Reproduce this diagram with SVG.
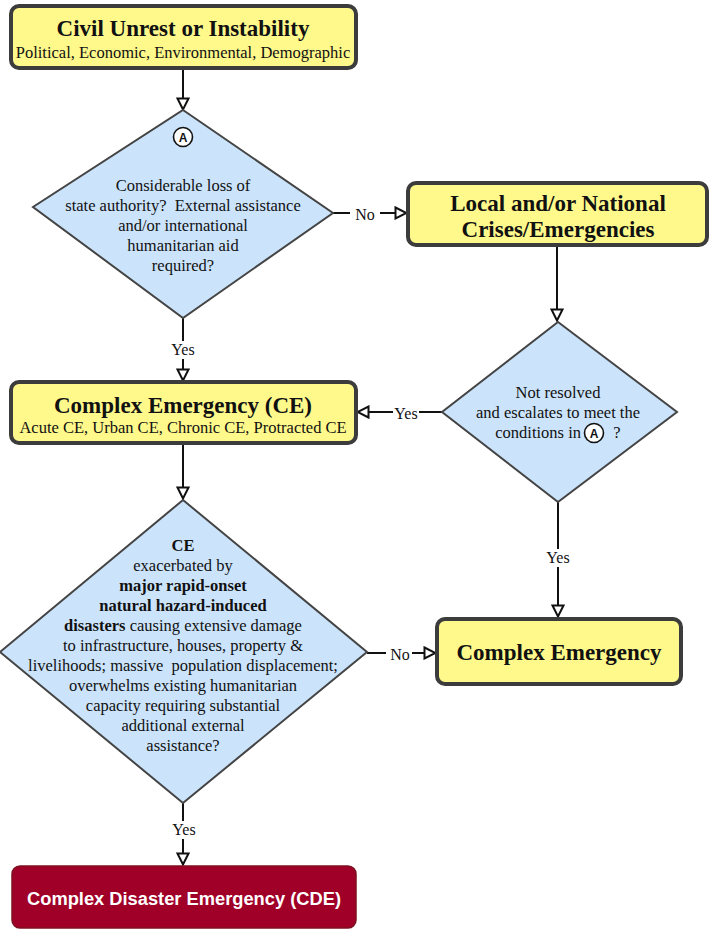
<svg xmlns="http://www.w3.org/2000/svg" width="712" height="930" viewBox="0 0 712 930">
<defs>
<style>
.box{fill:#fff98c;stroke:#3c3c3c;stroke-width:4}
.dia{fill:#cce4fb;stroke:#444;stroke-width:2}
.t{font-family:"Liberation Serif","Times New Roman",serif;fill:#111;text-anchor:middle}
.title{font-size:23px;font-weight:bold}
.sub{font-size:16.5px}
.q{font-size:16.5px}
.b{font-weight:bold}
.pre{white-space:pre}
.lbl{font-family:"Liberation Serif","Times New Roman",serif;font-size:16px;fill:#111;text-anchor:middle}
.edge{stroke:#111;stroke-width:2;fill:none}
.circ{fill:#fff;stroke:#111;stroke-width:1.6}
.ca{font-family:"Liberation Sans",Arial,sans-serif;font-size:12px;font-weight:bold;text-anchor:middle;fill:#111}
</style>
<marker id="arr" viewBox="0 0 14 14" refX="13" refY="7" markerWidth="14" markerHeight="14" markerUnits="userSpaceOnUse" orient="auto">
<path d="M1.5,1.5 L12.5,7 L1.5,12.5 Z" fill="#fff" stroke="#111" stroke-width="2" stroke-linejoin="miter"/>
</marker>
</defs>
<rect width="712" height="930" fill="#fff"/>

<g id="connectors">
<line class="edge" x1="183" y1="70" x2="183" y2="110" marker-end="url(#arr)"/>
<line class="edge" x1="333" y1="213" x2="407" y2="213" marker-end="url(#arr)"/>
<line class="edge" x1="557" y1="247" x2="557" y2="321" marker-end="url(#arr)"/>
<line class="edge" x1="183" y1="318" x2="183" y2="381" marker-end="url(#arr)"/>
<line class="edge" x1="442" y1="412" x2="357" y2="412" marker-end="url(#arr)"/>
<line class="edge" x1="183" y1="444" x2="183" y2="499" marker-end="url(#arr)"/>
<line class="edge" x1="367" y1="653" x2="436" y2="653" marker-end="url(#arr)"/>
<line class="edge" x1="558" y1="502" x2="558" y2="617" marker-end="url(#arr)"/>
<line class="edge" x1="183" y1="803" x2="183" y2="865" marker-end="url(#arr)"/>
<rect x="350" y="205" width="30" height="18" fill="#fff"/>
<text class="lbl" x="365" y="220">No</text>
<rect x="168" y="341" width="30" height="18" fill="#fff"/>
<text class="lbl" x="183" y="355">Yes</text>
<rect x="393" y="404" width="26" height="18" fill="#fff"/>
<text class="lbl" x="406" y="419">Yes</text>
<rect x="543" y="549" width="30" height="18" fill="#fff"/>
<text class="lbl" x="558" y="563">Yes</text>
<rect x="386" y="645" width="26" height="18" fill="#fff"/>
<text class="lbl" x="400" y="660">No</text>
<rect x="168" y="821" width="30" height="18" fill="#fff"/>
<text class="lbl" x="184" y="835">Yes</text>
</g>

<g id="civil-unrest">
<rect class="box" x="11" y="6" width="345" height="62" rx="8"/>
<text class="t title" x="183" y="36">Civil Unrest or Instability</text>
<text class="t sub" x="183" y="58">Political, Economic, Environmental, Demographic</text>
</g>

<g id="decision-a">
<polygon class="dia" points="183,110 333,213 183,318 33,207"/>
<circle class="circ" cx="183" cy="137" r="9.5"/>
<text class="ca" x="183" y="141.5">A</text>
<text class="t q" x="183" y="191">Considerable loss of</text>
<text class="t q pre" x="183" y="211">state authority?  External assistance</text>
<text class="t q" x="183" y="231">and/or international</text>
<text class="t q" x="183" y="251">humanitarian aid</text>
<text class="t q" x="183" y="271">required?</text>
</g>

<g id="local-national">
<rect class="box" x="408" y="183" width="299" height="62" rx="8"/>
<text class="t title" x="558" y="211">Local and/or National</text>
<text class="t title" x="558" y="237">Crises/Emergencies</text>
</g>

<g id="decision-escalate">
<polygon class="dia" points="558,322 677,412 558,502 442,412"/>
<text class="t q" x="558" y="398">Not resolved</text>
<text class="t q" x="558" y="418">and escalates to meet the</text>
<text class="t q" x="581" y="438" style="text-anchor:end">conditions in</text>
<circle class="circ" cx="594" cy="433" r="9.5"/>
<text class="ca" x="594" y="437.5">A</text>
<text class="t q" x="617" y="438">?</text>
</g>

<g id="complex-emergency-ce">
<rect class="box" x="11" y="382" width="345" height="61" rx="8"/>
<text class="t title" x="183" y="413">Complex Emergency (CE)</text>
<text class="t sub" x="183" y="433">Acute CE, Urban CE, Chronic CE, Protracted CE</text>
</g>

<g id="decision-disaster">
<polygon class="dia" points="183,500 367,652 183,803 0,652"/>
<text class="t q b" x="183" y="551">CE</text>
<text class="t q" x="183" y="571">exacerbated by</text>
<text class="t q b" x="183" y="591">major rapid-onset</text>
<text class="t q b" x="183" y="611">natural hazard-induced</text>
<text class="t q" x="183" y="631"><tspan class="b">disasters</tspan> causing extensive damage</text>
<text class="t q" x="183" y="651">to infrastructure, houses, property &amp;</text>
<text class="t q pre" x="183" y="671">livelihoods; massive  population displacement;</text>
<text class="t q" x="183" y="691">overwhelms existing humanitarian</text>
<text class="t q" x="183" y="711">capacity requiring substantial</text>
<text class="t q" x="183" y="731">additional external</text>
<text class="t q" x="183" y="751">assistance?</text>
</g>

<g id="complex-emergency">
<rect class="box" x="437" y="619" width="244" height="65" rx="8"/>
<text class="t title" x="559" y="660">Complex Emergency</text>
</g>

<g id="cde">
<rect x="12" y="866" width="344" height="62" rx="8" fill="#a00027" stroke="#7c1020" stroke-width="1.5"/>
<text x="184" y="905" font-family="'Liberation Sans',Arial,sans-serif" font-size="18.3" font-weight="bold" fill="#fff" text-anchor="middle">Complex Disaster Emergency (CDE)</text>
</g>
</svg>
